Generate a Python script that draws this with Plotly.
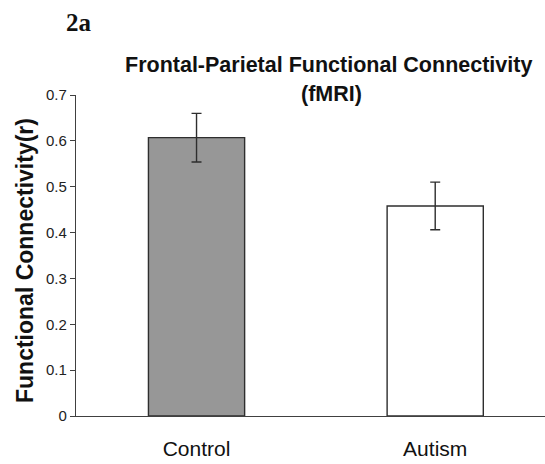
"""Frontal-parietal functional connectivity bar chart (fMRI)."""

import plotly.graph_objects as go

groups = ["Control", "Autism"]
connectivity = [0.607, 0.458]
sem = [0.053, 0.052]
bar_fills = ["#979797", "#ffffff"]

y_ticks = [0, 0.1, 0.2, 0.3, 0.4, 0.5, 0.6, 0.7]
y_tick_labels = ["0", "0.1", "0.2", "0.3", "0.4", "0.5", "0.6", "0.7"]

SANS = "Arial, Liberation Sans, sans-serif"

fig = go.Figure(go.Bar(
    x=groups, y=connectivity,
    width=0.403,
    marker={"color": bar_fills, "line": {"color": "#2e2e2e", "width": 1.4}},
    error_y={"type": "data", "array": sem, "visible": True,
             "color": "#2e2e2e", "thickness": 1.4, "width": 5},
))

fig.update_layout(
    width=545, height=464,
    margin={"l": 76, "r": 0, "t": 95, "b": 48},
    paper_bgcolor="white", plot_bgcolor="white",
    showlegend=False,
    font={"family": SANS, "color": "#1a1a1a"},
    xaxis={
        "range": [-0.505, 1.46], "showline": True, "linecolor": "#404040",
        "linewidth": 1.4, "ticks": "", "showgrid": False,
        "tickfont": {"size": 21, "color": "#111"}, "ticklabelstandoff": 14,
    },
    yaxis={
        "range": [0, 0.7], "tickvals": y_ticks, "ticktext": y_tick_labels,
        "showline": True, "linecolor": "#404040", "linewidth": 1.4,
        "ticks": "outside", "ticklen": 5, "tickcolor": "#404040",
        "showgrid": False, "zeroline": False,
        "tickfont": {"size": 15, "color": "#222"},
    },
    annotations=[
        {"text": "<b>2a</b>", "xref": "paper", "yref": "paper",
         "x": (79 - 76) / 469, "y": (416 - 22) / 321,
         "xanchor": "center", "yanchor": "middle", "showarrow": False,
         "font": {"family": "Liberation Serif, Times New Roman, serif",
                  "size": 25, "color": "#111"}},
        {"text": "<b>Frontal-Parietal Functional Connectivity</b>",
         "xref": "paper", "yref": "paper",
         "x": (328.5 - 76) / 469, "y": (416 - 65) / 321,
         "xanchor": "center", "yanchor": "middle", "showarrow": False,
         "font": {"size": 21.5, "color": "#111"}},
        {"text": "<b>(fMRI)</b>", "xref": "paper", "yref": "paper",
         "x": (331 - 76) / 469, "y": (416 - 94) / 321,
         "xanchor": "center", "yanchor": "middle", "showarrow": False,
         "font": {"size": 21.5, "color": "#111"}},
        {"text": "<b>Functional Connectivity(r)</b>",
         "xref": "paper", "yref": "paper",
         "x": (25 - 76) / 469, "y": (416 - 261) / 321, "textangle": -90,
         "xanchor": "center", "yanchor": "middle", "showarrow": False,
         "font": {"size": 23, "color": "#111"}},
    ],
)

# the page's default body margin would shift the 545x464 figure off the window
fig.write_html("out.html", config={"displayModeBar": False},
               post_script="document.body.style.margin = '0';")
